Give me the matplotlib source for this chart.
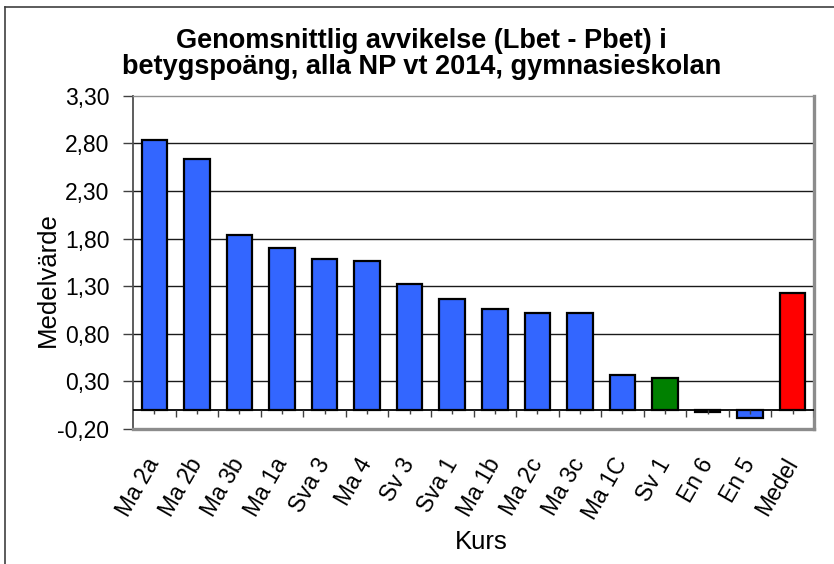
import numpy as np
import matplotlib
matplotlib.use("Agg")
import matplotlib.pyplot as plt
from matplotlib.lines import Line2D

plt.rcParams['font.family'] = ['Liberation Sans', 'DejaVu Sans']

# data
kurser = ["Ma 2a", "Ma 2b", "Ma 3b", "Ma 1a", "Sva 3", "Ma 4", "Sv 3", "Sva 1",
          "Ma 1b", "Ma 2c", "Ma 3c", "Ma 1C", "Sv 1", "En 6", "En 5", "Medel"]
medelvarde = [2.83, 2.64, 1.84, 1.70, 1.59, 1.565, 1.32, 1.17,
              1.06, 1.02, 1.015, 0.37, 0.335, -0.02, -0.08, 1.225]
farger = ["#3366FF"] * 12 + ["#008000", "#3366FF", "#3366FF", "#FF0000"]
yticks = [-0.20, 0.30, 0.80, 1.30, 1.80, 2.30, 2.80, 3.30]

fig = plt.figure(figsize=(8.34, 5.64), dpi=100)
ax = fig.add_axes([0.1595, 0.2394, 0.976 - 0.1595, 0.8303 - 0.2394])

x = np.arange(len(kurser))
ax.bar(x, medelvarde, width=0.6, color=farger, edgecolor="black",
       linewidth=1.6, zorder=3)

ax.set_xlim(-0.5, len(kurser) - 0.5)
ax.set_ylim(yticks[0], yticks[-1])

# gridlines (inner ones only), zero line with category ticks
for yv in yticks[1:-1]:
    ax.axhline(yv, color="#1a1a1a", lw=1.0, zorder=1)
ax.axhline(0, color="black", lw=1.3, zorder=4)
ax.vlines(x + 0.5, -0.075, 0, color="#404040", lw=1.0, zorder=4)
ax.vlines(x, -0.045, 0, color="#404040", lw=1.0, zorder=4)

ax.set_yticks(yticks)
ax.set_yticklabels([f"{v:.2f}".replace(".", ",") for v in yticks], fontsize=16.5)
ax.tick_params(axis="y", length=7, width=1.0, color="#404040", pad=10)

ax.set_xticks(x)
ax.set_xticklabels(kurser, fontsize=16.5, rotation=60, ha="right",
                   va="center", rotation_mode="anchor")
ax.tick_params(axis="x", length=0, pad=22)

ax.spines["left"].set_color("#505050")
ax.spines["left"].set_linewidth(1.3)
ax.spines["top"].set_color("#909090")
ax.spines["top"].set_linewidth(1.0)
for s in ["right", "bottom"]:
    ax.spines[s].set_color("#8c8c8c")
    ax.spines[s].set_linewidth(2.4)

fig.text(0.057, 1 - 280 / 564, "Medelvärde", rotation=90, fontsize=18.5,
         ha="center", va="center")
fig.text(0.577, 1 - 542 / 564, "Kurs", fontsize=18.5, ha="center", va="center")
fig.text(0.505, 1 - 54 / 564,
         "Genomsnittlig avvikelse (Lbet - Pbet) i\nbetygspoäng, alla NP vt 2014, gymnasieskolan",
         fontsize=19.5, fontweight="bold", ha="center", va="center", linespacing=1.0)

# outer chart border (top and left visible)
fig.add_artist(Line2D([5 / 834, 5 / 834], [0, 1 - 7 / 564], color="#404040", lw=1.2))
fig.add_artist(Line2D([5 / 834, 1], [1 - 7 / 564, 1 - 7 / 564], color="#404040", lw=1.2))

fig.savefig("out.png", dpi=100)
